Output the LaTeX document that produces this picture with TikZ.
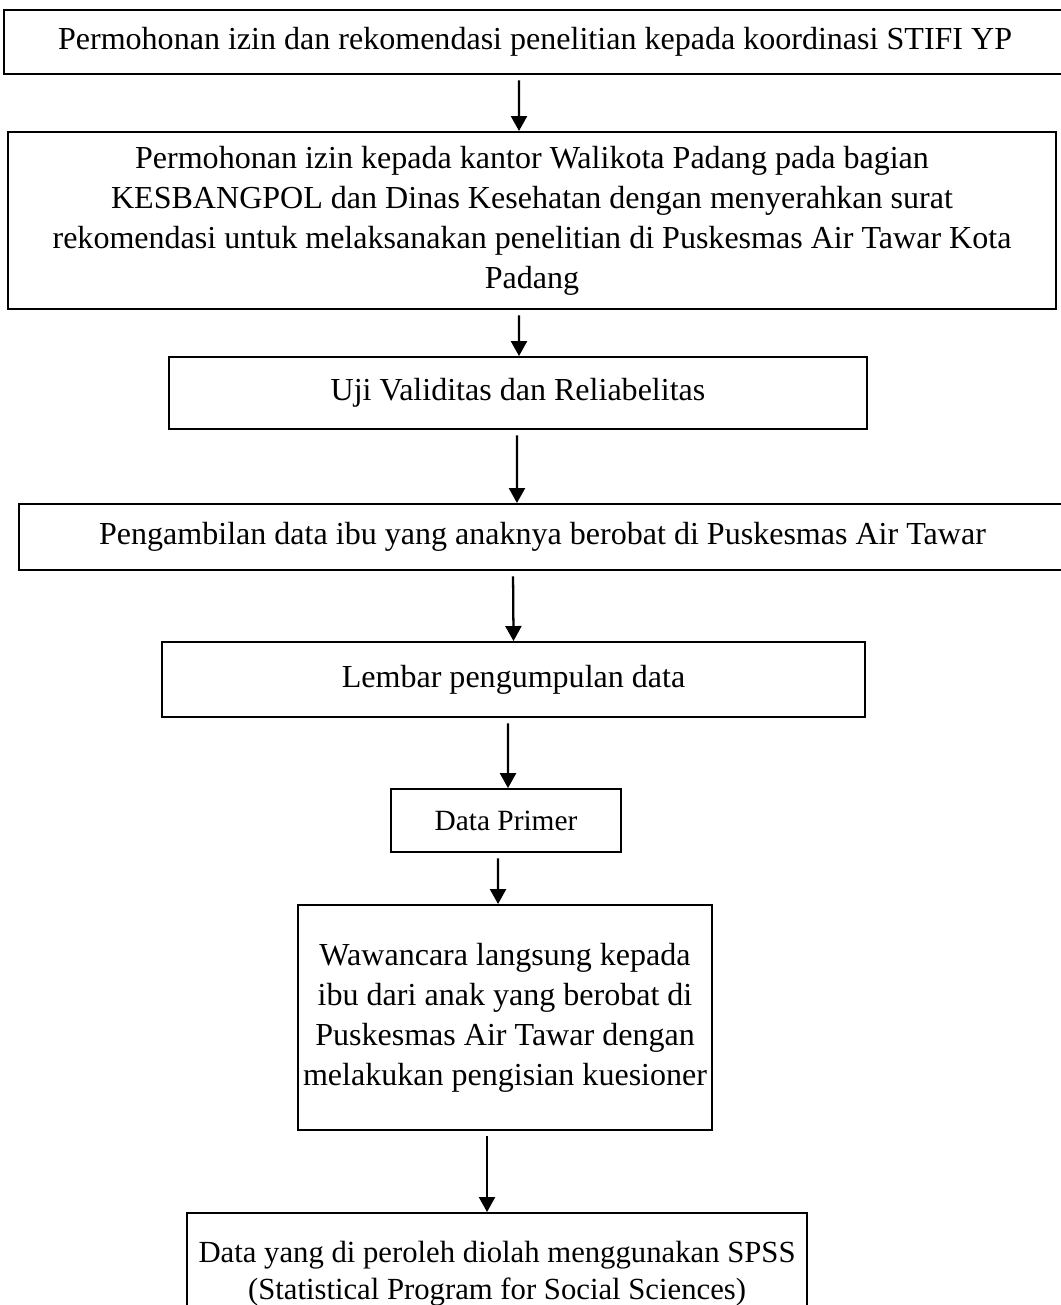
\documentclass[tikz,border=0pt]{standalone}
\usepackage{fontspec}
\setmainfont{Liberation Serif}
\usetikzlibrary{arrows.meta}
\tikzset{
  stepbox/.style={rectangle, draw=black, line width=0.75pt, inner sep=0pt, align=center, font=\fontsize{12}{15}\selectfont},
  flowarrow/.style={-{Triangle[length=5.6pt, width=6pt]}, line width=0.85pt, shorten <=2pt},
}

\begin{document}
\begin{tikzpicture}
  \useasboundingbox (0,0) rectangle (13.952,-17.176);

  % Izin
  \node[stepbox, minimum width=13.978cm, minimum height=0.842cm] (izin) at (7.042, -0.553) {Permohonan izin dan rekomendasi penelitian kepada koordinasi STIFI YP};
  \node[stepbox, minimum width=13.794cm, minimum height=2.330cm] (kota) at (7.002, -2.902) {Permohonan izin kepada kantor Walikota Padang pada bagian\\KESBANGPOL dan Dinas Kesehatan dengan menyerahkan surat\\rekomendasi untuk melaksanakan penelitian di Puskesmas Air Tawar Kota\\Padang};

  % Instrumen
  \node[stepbox, minimum width=9.187cm, minimum height=0.948cm] (uji) at (6.818, -5.173) {Uji Validitas dan Reliabelitas};
  \node[stepbox, minimum width=13.781cm, minimum height=0.869cm] (ambil) at (7.140, -7.068) {Pengambilan data ibu yang anaknya berobat di Puskesmas Air Tawar};
  \node[stepbox, minimum width=9.253cm, minimum height=0.987cm] (lembar) at (6.759, -8.943) {Lembar pengumpulan data};
  \node[stepbox, font=\fontsize{11}{14}\selectfont, minimum width=3.027cm, minimum height=0.829cm] (primer) at (6.660, -10.800) {Data Primer};

  % Wawancara dan olah data
  \node[stepbox, minimum width=5.449cm, minimum height=2.961cm] (wawancara) at (6.647, -13.392) {Wawancara langsung kepada\\ibu dari anak yang berobat di\\Puskesmas Air Tawar dengan\\melakukan pengisian kuesioner};
  \node[stepbox, font=\fontsize{11.5}{14}\selectfont, anchor=north, inner ysep=10.5pt, minimum width=8.160cm] (spss) at (6.542, -15.952) {Data yang di peroleh diolah menggunakan SPSS\\(Statistical Program for Social Sciences)};

  % Arrows
  \draw[flowarrow] ([xshift=-0.211cm]izin.south) -- ([xshift=-0.171cm]kota.north);
  \draw[flowarrow] ([xshift=-0.171cm]kota.south) -- ([xshift=0.013cm]uji.north);
  \draw[flowarrow] ([xshift=-0.013cm]uji.south) -- ([xshift=-0.336cm]ambil.north);
  \draw[flowarrow] ([xshift=-0.388cm]ambil.south) -- ([xshift=0cm]lembar.north);
  \draw[flowarrow] ([xshift=-0.072cm]lembar.south) -- ([xshift=0.026cm]primer.north);
  \draw[flowarrow] ([xshift=-0.105cm]primer.south) -- ([xshift=-0.092cm]wawancara.north);
  \draw[flowarrow] ([xshift=-0.237cm]wawancara.south) -- ([xshift=-0.132cm]spss.north);
\end{tikzpicture}
\end{document}
